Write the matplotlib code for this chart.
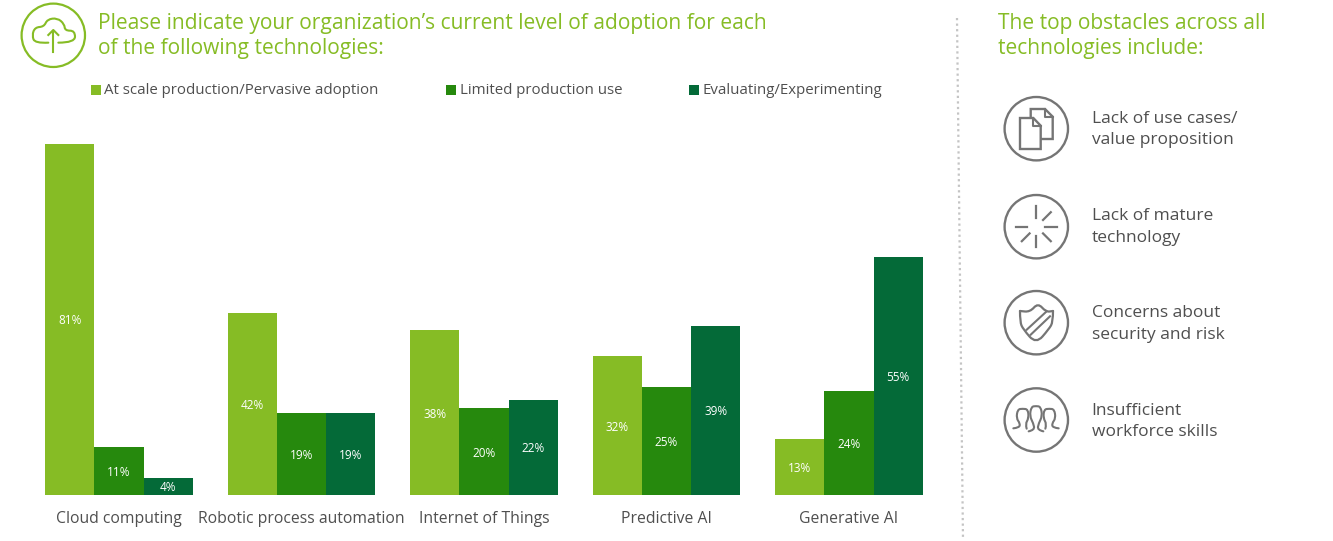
import matplotlib
matplotlib.use('Agg')
import matplotlib.pyplot as plt
import numpy as np
from matplotlib.path import Path
from matplotlib.patches import Circle, PathPatch, Polygon, Rectangle

plt.rcParams['font.family'] = ['Open Sans', 'DejaVu Sans']

categories = ['Cloud computing', 'Robotic process automation', 'Internet of Things', 'Predictive AI', 'Generative AI']
at_scale = [81, 42, 38, 32, 13]
limited = [11, 19, 20, 25, 24]
evaluating = [4, 19, 22, 39, 55]
series_names = ['At scale production/Pervasive adoption', 'Limited production use', 'Evaluating/Experimenting']
obstacles = ['Lack of use cases/\nvalue proposition', 'Lack of mature\ntechnology',
             'Concerns about\nsecurity and risk', 'Insufficient\nworkforce skills']

LIGHT = '#86bc25'
MID = '#26890d'
DARK = '#046a38'
GRAY = '#757575'
TEXT = '#4f4f4f'
W, H = 1333, 541

fig = plt.figure(figsize=(W / 100, H / 100), dpi=100)

# bars
ax = fig.add_axes([27.7 / W, (H - 495) / H, 912.5 / W, 395 / H])
x = np.arange(len(categories))
bw = 0.27
for off, vals, col in zip([-bw, 0, bw], [at_scale, limited, evaluating], [LIGHT, MID, DARK]):
    bars = ax.bar(x + off, vals, bw, color=col)
    for b, v in zip(bars, vals):
        ax.annotate(f'{v}%', (b.get_x() + bw / 2, v / 2), xytext=(0, -1), textcoords='offset points',
                    ha='center', va='center', color='white', fontsize=8.5)
ax.set_xlim(-0.5, 4.5)
ax.set_ylim(0, 395 / 4.333)
ax.set_xticks(x, categories, fontsize=11.35, color=TEXT)
ax.tick_params(axis='x', length=0, pad=11.7)
ax.set_yticks([])
for s in ax.spines.values():
    s.set_visible(False)

# overlay in pixel coordinates
ov = fig.add_axes([0, 0, 1, 1], zorder=5)
ov.set_xlim(0, W)
ov.set_ylim(H, 0)
ov.axis('off')


def smooth(points, color, lw):
    # quadratic curve through the midpoints of the given points
    p = np.array(points, dtype=float)
    verts = [p[0]]
    codes = [Path.MOVETO]
    for i in range(1, len(p) - 1):
        end = (p[i] + p[i + 1]) / 2 if i < len(p) - 2 else p[i + 1]
        verts += [p[i], end]
        codes += [Path.CURVE3, Path.CURVE3]
    ov.add_patch(PathPatch(Path(verts, codes), fill=False, ec=color, lw=lw, capstyle='round'))


def from_zoom(points, x0, y0):
    return [(x0 + a / 3, y0 + b / 3) for a, b in points]


ov.text(98, 36, 'Please indicate your organization\u2019s current level of adoption for each\nof the following technologies:',
        color=LIGHT, fontsize=15.08, va='center', ha='left', linespacing=1.27)
ov.text(998, 36, 'The top obstacles across all\ntechnologies include:',
        color=LIGHT, fontsize=15.08, va='center', ha='left', linespacing=1.27)

# legend
for lx, name, col in zip([90.5, 446, 689], series_names, [LIGHT, MID, DARK]):
    ov.add_patch(Rectangle((lx, 85), 10, 10, color=col, lw=0))
    ov.text(lx + 14, 90, name, color=TEXT, fontsize=10.8, va='center')

# divider
ov.plot([957, 963], [18, 540], color='#c4c4c4', lw=1.6, ls=(0, (1, 1.5)))

# cloud icon
ov.add_patch(Circle((53.3, 35.3), 31.7, fill=False, ec=LIGHT, lw=1.6))
smooth(from_zoom([(85, 122), (45, 124), (36, 100), (45, 76), (72, 74), (82, 52), (112, 48), (133, 66), (135, 86),
                  (165, 86), (165, 122), (115, 122)], 20, 2), LIGHT, 1.5)
ov.plot([53.3, 53.3], [31, 52], color=LIGHT, lw=1.5)
ov.plot([48.3, 53.3, 58.3], [35, 30, 35], color=LIGHT, lw=1.5)

# obstacles
icon_y = [128.7, 226.7, 322.7, 420]
text_y = [129.5, 227, 324, 421.5]
for cy, ty, label in zip(icon_y, text_y, obstacles):
    ov.add_patch(Circle((1036.3, cy), 31.7, fill=False, ec=GRAY, lw=1.7))
    ov.text(1091.6, ty, label, color=TEXT, fontsize=12.5, va='center', linespacing=1.42)

# documents icon
ov.add_patch(Polygon([[1030.7, 118], [1030.7, 109], [1045, 109], [1052.7, 116.7], [1052.7, 139], [1040.7, 139]],
                     closed=False, fill=False, ec=GRAY, lw=1.7))
ov.add_patch(Polygon([[1020, 118], [1033.3, 118], [1040.7, 125.7], [1040.7, 149], [1020, 149]],
                     closed=True, fill=False, ec=GRAY, lw=1.7))
ov.plot([1033.3, 1033.3, 1040.7], [118, 125.7, 125.7], color=GRAY, lw=1.5)
ov.plot([1045, 1045, 1052.7], [109, 116.7, 116.7], color=GRAY, lw=1.5)

# loading icon, the upper left spoke is absent in the original
for a in [0, 45, 90, 135, 180, 270, 315]:
    t = np.radians(a)
    r1, r2 = (9, 20.5) if a % 90 == 0 else (9.5, 20.5)
    ov.plot([1036.3 + r1 * np.cos(t), 1036.3 + r2 * np.cos(t)], [226.7 + r1 * np.sin(t), 226.7 + r2 * np.sin(t)],
            color=GRAY, lw=1.6)

# shield icon
smooth([(1020, 311), (1020, 311), (1030, 312), (1038, 303), (1046, 312), (1053, 311), (1053, 311)], GRAY, 1.6)
smooth([(1020, 311), (1020, 322), (1023, 329), (1036, 344), (1049, 329), (1053, 322), (1053, 311)], GRAY, 1.6)
ov.plot([1026.7, 1046.7], [329.7, 311.3], color=GRAY, lw=1.5)
ov.plot([1030.7, 1050], [334.7, 316.3], color=GRAY, lw=1.5)

# people icon
people = [[(40, 133), (58, 131), (60, 118), (49, 103), (53, 76), (68, 74), (84, 76), (86, 103), (76, 120), (80, 134)],
          [(86, 142), (104, 138), (100, 118), (89, 96), (94, 68), (108, 66), (122, 68), (127, 96), (116, 118), (112, 138), (130, 142)],
          [(176, 133), (158, 131), (156, 118), (167, 103), (163, 76), (148, 74), (132, 76), (130, 103), (140, 120), (136, 134)]]
for pts in people:
    smooth(from_zoom(pts, 1000, 384), GRAY, 1.5)

fig.savefig('out.png', dpi=100)
